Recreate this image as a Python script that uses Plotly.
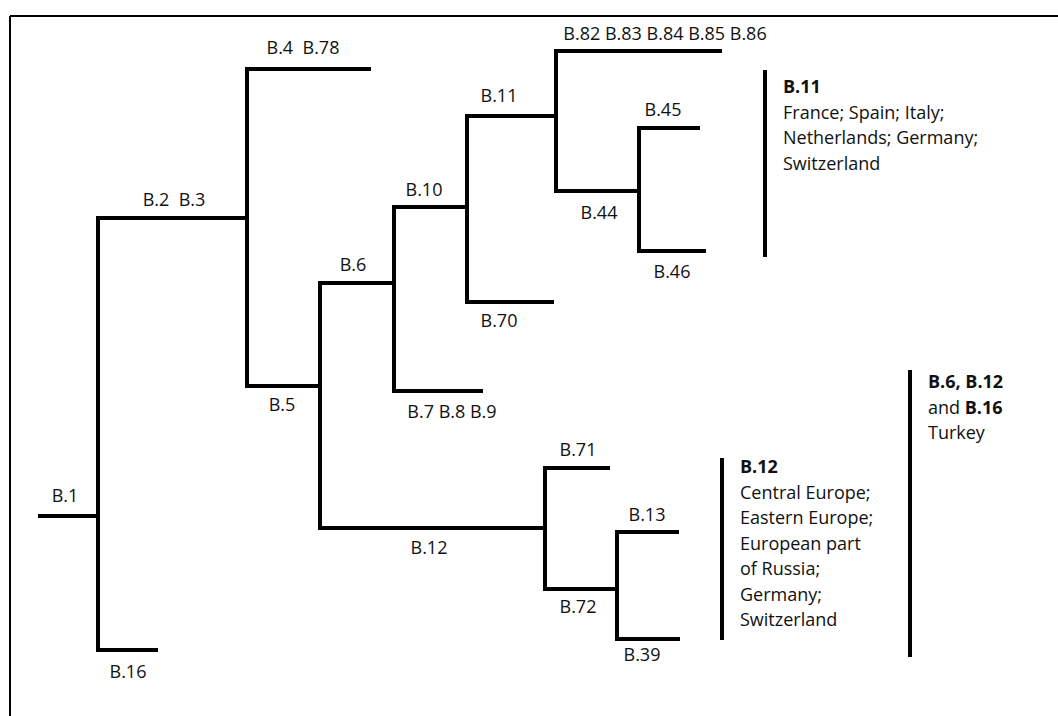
import plotly.graph_objects as go

# ---- tree data (x = position of the node's vertical connector / branch end, y = branch height)
node_names = ["B.1", "B.2  B.3", "B.16", "B.4  B.78", "B.5", "B.6", "B.12", "B.10",
              "B.7 B.8 B.9", "B.11", "B.70", "B.82 B.83 B.84 B.85 B.86", "B.44",
              "B.45", "B.46", "B.71", "B.72", "B.13", "B.39"]
node_parent = [None, "B.1", "B.1", "B.2  B.3", "B.2  B.3", "B.5", "B.5", "B.6",
               "B.6", "B.10", "B.10", "B.11", "B.11",
               "B.44", "B.44", "B.12", "B.12", "B.72", "B.72"]
node_x = [98, 247, 158, 371, 320, 394, 545, 467, 483, 556, 554, 722, 639,
          700, 706, 610, 617, 679, 680]
node_y = [516, 218, 650, 69, 386, 283, 528, 207, 391, 116, 302, 51, 191,
          128, 251, 468, 589, 532, 639]
root_start_x = 38
label_x = [65, 174, 128, 303, 282, 353, 429, 424, 452, 499, 499, 665, 599,
           663, 672, 578, 578, 647, 642]
label_y = [497, 201, 673, 49, 406, 266, 549, 191, 413, 97, 322, 35, 214,
           111, 273, 451, 608, 516, 656]

# ---- group bars with descriptions
group_bar_x = [765, 722, 910]
group_bar_y0 = [70, 458, 370]
group_bar_y1 = [257, 640, 657]
group_text_x = [781, 738, 926]
group_text_y0 = [86, 466, 381]
group_lines = [
    ["<b>B.11</b>", "France; Spain; Italy;", "Netherlands; Germany;", "Switzerland"],
    ["<b>B.12</b>", "Central Europe;", "Eastern Europe;", "European part", "of Russia;",
     "Germany;", "Switzerland"],
    ["<b>B.6, B.12</b>", "and <b>B.16</b>", "Turkey"],
]
LINE_STEP = 25.5

FONT = "Open Sans"
FS = 18
LW = 4

idx = {n: i for i, n in enumerate(node_names)}
xs, ys = [], []
# horizontal branches
for i, n in enumerate(node_names):
    p = node_parent[i]
    x0 = root_start_x if p is None else node_x[idx[p]]
    xs += [x0, node_x[i], None]
    ys += [node_y[i], node_y[i], None]
# vertical connectors
for i, n in enumerate(node_names):
    kids = [j for j, p in enumerate(node_parent) if p == n]
    if kids:
        ky = [node_y[j] for j in kids]
        xs += [node_x[i], node_x[i], None]
        ys += [min(ky) - LW / 2, max(ky) + LW / 2, None]

fig = go.Figure()
fig.add_trace(go.Scatter(x=xs, y=ys, mode="lines",
                         line=dict(color="black", width=LW), hoverinfo="skip",
                         showlegend=False))

# group bars
gx, gy = [], []
for bx, b0, b1 in zip(group_bar_x, group_bar_y0, group_bar_y1):
    gx += [bx, bx, None]
    gy += [b0, b1, None]
fig.add_trace(go.Scatter(x=gx, y=gy, mode="lines",
                         line=dict(color="black", width=LW), hoverinfo="skip",
                         showlegend=False))

# branch labels
fig.add_trace(go.Scatter(x=label_x, y=label_y, mode="text", text=node_names,
                         textfont=dict(family=FONT, size=FS, color="#111"),
                         textposition="middle center", hoverinfo="skip",
                         showlegend=False))

# group descriptions
for tx, ty, lines in zip(group_text_x, group_text_y0, group_lines):
    for k, t in enumerate(lines):
        fig.add_annotation(x=tx, y=ty + k * LINE_STEP, text=t, showarrow=False,
                           xanchor="left", yanchor="middle",
                           font=dict(family=FONT, size=FS, color="#111"))

# frame (top and left edges)
fig.add_shape(type="line", x0=10, x1=1058, y0=16, y1=16, xref="x", yref="y",
              line=dict(color="black", width=2))
fig.add_shape(type="line", x0=10, x1=10, y0=16, y1=716, xref="x", yref="y",
              line=dict(color="black", width=2))

fig.update_xaxes(range=[0, 1058], visible=False, fixedrange=True)
fig.update_yaxes(range=[716, 0], visible=False, fixedrange=True)
fig.update_layout(width=1058, height=716, margin=dict(l=0, r=0, t=0, b=0),
                  paper_bgcolor="white", plot_bgcolor="white", hovermode=False)

fig.write_html("out.html",
               config={"displayModeBar": False, "staticPlot": True},
               post_script="document.body.style.margin='0';"
                           "document.body.style.overflow='hidden';")
